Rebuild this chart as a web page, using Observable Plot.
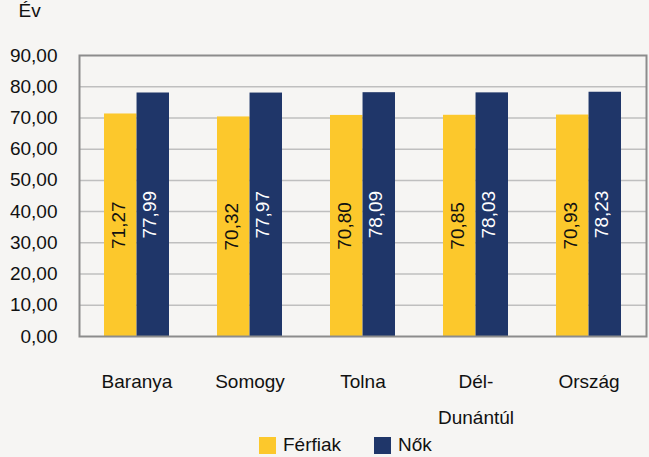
<!DOCTYPE html>
<html>
<head>
<meta charset="utf-8">
<script src="https://cdn.jsdelivr.net/npm/d3@7"></script>
<script src="https://cdn.jsdelivr.net/npm/@observablehq/plot@0.6"></script>
<style>
  html, body { margin: 0; padding: 0; background: #f6f5f3; }
  body { width: 649px; height: 457px; overflow: hidden; font-family: "Liberation Sans", Arial, sans-serif; }
  #chart svg { overflow: visible; display: block; }
  #legend { height: 24px; display: flex; align-items: center; padding-left: 259px; font-size: 19px; color: #111; }
  .sw { width: 17px; height: 17px; display: inline-block; margin-right: 7px; }
  .item { display: flex; align-items: center; margin-right: 33px; }
</style>
</head>
<body>
<div id="chart"></div>
<div id="legend"></div>
<script>
const categories = ["Baranya", "Somogy", "Tolna", "Dél-\nDunántúl", "Ország"];
const series = ["Férfiak", "Nők"];
const ferfiak = [71.27, 70.32, 70.80, 70.85, 70.93];
const nok = [77.99, 77.97, 78.09, 78.03, 78.23];
const yTicks = [0, 10, 20, 30, 40, 50, 60, 70, 80, 90];
const colors = ["#fcc82c", "#1f3669"];

const fmt = v => v.toFixed(2).replace(".", ",");

const data = [];
categories.forEach((c, i) => {
  data.push({cat: c, series: series[0], value: ferfiak[i]});
  data.push({cat: c, series: series[1], value: nok[i]});
});
const fData = data.filter(d => d.series === series[0]);
const nData = data.filter(d => d.series === series[1]);

const W = 649, H = 433;
const mL = 79, mR = 3, mT = 55, mB = 97;
const pIn = 0.427, pOut = 0.21;
const step = (W - mL - mR) / (categories.length - pIn + 2 * pOut);
const bw = step * (1 - pIn);

const chart = Plot.plot({
  width: W,
  height: H,
  marginLeft: mL,
  marginRight: mR,
  marginTop: mT,
  marginBottom: mB,
  style: {background: "#f6f5f3", fontFamily: "'Liberation Sans', Arial, sans-serif", fontSize: "19px", color: "#111", overflow: "visible"},
  x: {domain: categories, paddingInner: pIn, paddingOuter: pOut, label: null},
  y: {domain: [0, 90], label: null},
  color: {domain: series, range: colors},
  marks: [
    Plot.ruleY(yTicks.filter(t => t > 0 && t < 90), {stroke: "#bfbfbf", strokeWidth: 1.5}),
    Plot.barY(fData, {x: "cat", y: "value", fill: colors[0], insetRight: bw / 2}),
    Plot.barY(nData, {x: "cat", y: "value", fill: colors[1], insetLeft: bw / 2}),
    Plot.text(fData, {x: "cat", y: d => d.value / 2, text: d => fmt(d.value), rotate: -90, dx: -bw / 4 - 2, fill: "#111", fontSize: 19}),
    Plot.text(nData, {x: "cat", y: d => d.value / 2, text: d => fmt(d.value), rotate: -90, dx: bw / 4 - 3, fill: "#ffffff", fontSize: 19}),
    Plot.frame({stroke: "#8c8c8c", strokeWidth: 2}),
    Plot.axisY(yTicks, {tickSize: 0, tickPadding: 22, tickFormat: fmt, fontSize: 19, label: "Év", labelAnchor: "top", labelArrow: false, labelOffset: 61}),
    Plot.axisX({tickSize: 0, tickPadding: 26, fontSize: 19, lineHeight: 1.9, label: null})
  ]
});
document.getElementById("chart").appendChild(chart);

const legend = document.getElementById("legend");
series.forEach((s, i) => {
  const item = document.createElement("span");
  item.className = "item";
  const sw = document.createElement("span");
  sw.className = "sw";
  sw.style.background = colors[i];
  item.appendChild(sw);
  item.appendChild(document.createTextNode(s));
  legend.appendChild(item);
});
</script>
</body>
</html>
